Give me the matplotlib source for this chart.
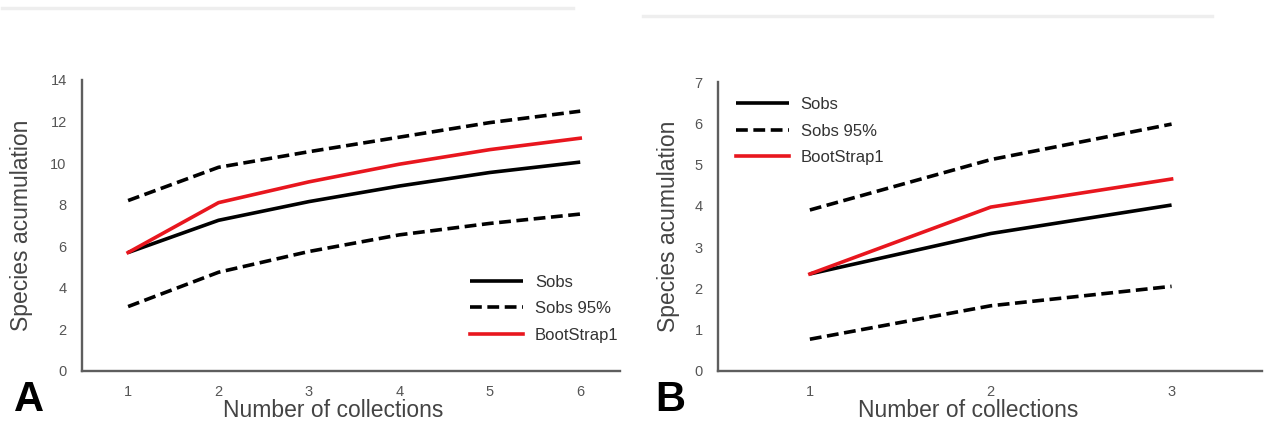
import matplotlib
matplotlib.use("Agg")
import matplotlib.pyplot as plt
from matplotlib.lines import Line2D

plt.rcParams['font.family'] = ['Liberation Sans', 'DejaVu Sans']
plt.rcParams['lines.scale_dashes'] = False

# ---- data ----
collections_a = [1, 2, 3, 4, 5, 6]
sobs_a = [5.7, 7.25, 8.15, 8.9, 9.55, 10.05]
boot_a = [5.7, 8.1, 9.1, 9.95, 10.65, 11.2]
upper_a = [8.2, 9.8, 10.55, 11.25, 11.95, 12.5]
lower_a = [3.1, 4.75, 5.75, 6.55, 7.1, 7.55]

collections_b = [1, 2, 3]
sobs_b = [2.35, 3.33, 4.02]
boot_b = [2.35, 3.97, 4.65]
upper_b = [3.9, 5.12, 5.98]
lower_b = [0.77, 1.58, 2.05]

yticks_a = [0, 2, 4, 6, 8, 10, 12, 14]
yticks_b = [0, 1, 2, 3, 4, 5, 6, 7]

labels = ["Sobs", "Sobs 95%", "BootStrap1"]
RED = '#e8161e'
W, H = 1264, 428

fig = plt.figure(figsize=(W / 100, H / 100), dpi=100)


def ax_at(l, r, b, t):
    return fig.add_axes([l / W, 1 - b / H, (r - l) / W, (b - t) / H])


def style(ax, xs, yticks, xlim):
    ax.set_xlim(*xlim)
    ax.set_ylim(yticks[0], yticks[-1])
    ax.set_xticks(xs)
    ax.set_yticks(yticks)
    for s in ['top', 'right']:
        ax.spines[s].set_visible(False)
    for s in ['left', 'bottom']:
        ax.spines[s].set_color('#5e5e5e')
        ax.spines[s].set_linewidth(1.7)
    ax.tick_params(axis='both', length=0, labelsize=10.5, labelcolor='#555555')
    ax.tick_params(axis='y', pad=11)
    ax.tick_params(axis='x', pad=10)


def draw(ax, xs, sobs, boot, up, lo):
    lw = 2.6
    l1, = ax.plot(xs, sobs, color='black', lw=lw, solid_capstyle='butt')
    l2, = ax.plot(xs, up, color='black', lw=lw, dashes=(8.5, 4), dash_capstyle='butt')
    ax.plot(xs, lo, color='black', lw=lw, dashes=(8.5, 4), dash_capstyle='butt')
    l3, = ax.plot(xs, boot, color=RED, lw=lw)
    return [l1, l2, l3]


# Panel A
axA = ax_at(82, 620, 371, 80)
style(axA, collections_a, yticks_a, (0.49, 6.44))
hA = draw(axA, collections_a, sobs_a, boot_a, upper_a, lower_a)
legA = axA.legend(hA, labels, loc='lower right', bbox_to_anchor=(1.025, 0.045),
                  frameon=False, fontsize=12, handlelength=3.2, handletextpad=0.7,
                  labelspacing=0.7, labelcolor='#333333')
axA.set_xlabel("Number of collections", fontsize=16.5, color='#444444')
axA.set_ylabel("Species acumulation", fontsize=16.5, color='#444444')
axA.xaxis.set_label_coords(0.466, -0.137)
axA.xaxis.label.set_va('center')
axA.yaxis.set_label_coords(-0.112, 0.5)
axA.yaxis.label.set_va('center')

# Panel B
axB = ax_at(718, 1262, 371, 82)
style(axB, collections_b, yticks_b, (0.492, 3.5))
hB = draw(axB, collections_b, sobs_b, boot_b, upper_b, lower_b)
legB = axB.legend(hB, labels, loc='upper left', bbox_to_anchor=(0.005, 1.0),
                  frameon=False, fontsize=12, handlelength=3.2, handletextpad=0.7,
                  labelspacing=0.7, labelcolor='#333333')
axB.set_xlabel("Number of collections", fontsize=16.5, color='#444444')
axB.set_ylabel("Species acumulation", fontsize=16.5, color='#444444')
axB.xaxis.set_label_coords((968 - 718) / 544, -0.135)
axB.xaxis.label.set_va('center')
axB.yaxis.set_label_coords((668 - 718) / 544, 0.5)
axB.yaxis.label.set_va('center')

# panel letters
fig.text(29 / W, 1 - 400 / H, "A", fontsize=30, fontweight='bold', ha='center', va='center')
fig.text(670 / W, 1 - 400 / H, "B", fontsize=30, fontweight='bold', ha='center', va='center')

# faint top rules from the source layout
fig.add_artist(Line2D([2 / W, 573 / W], [1 - 8 / H, 1 - 8 / H], color='#eeeeee', lw=2.5))
fig.add_artist(Line2D([643 / W, 1212 / W], [1 - 16 / H, 1 - 16 / H], color='#eeeeee', lw=2.5))

fig.savefig("out.png", dpi=100)
